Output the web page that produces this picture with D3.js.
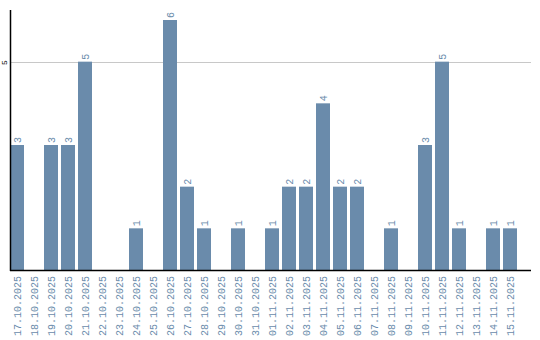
<!DOCTYPE html>
<html><head><meta charset="utf-8">
<script src="https://cdn.jsdelivr.net/npm/d3@7"></script>
<style>body{margin:0;background:#fff}svg{display:block}</style>
</head><body><svg id="c" width="540" height="340"></svg>
<script>
const categories = ["17.10.2025","18.10.2025","19.10.2025","20.10.2025","21.10.2025","22.10.2025","23.10.2025","24.10.2025","25.10.2025","26.10.2025","27.10.2025","28.10.2025","29.10.2025","30.10.2025","31.10.2025","01.11.2025","02.11.2025","03.11.2025","04.11.2025","05.11.2025","06.11.2025","07.11.2025","08.11.2025","09.11.2025","10.11.2025","11.11.2025","12.11.2025","13.11.2025","14.11.2025","15.11.2025"];
const values = [3,0,3,3,5,0,0,1,0,6,2,1,0,1,0,1,2,2,4,2,2,0,1,0,3,5,1,0,1,1];
const yTicks = [5];

const FONT = "Liberation Mono, DejaVu Sans Mono, monospace";
const svg = d3.select("#c");
const barColor = "#6a8bab";
const x = d3.scaleBand().domain(categories).range([10, 517]).paddingInner(3/17).paddingOuter(0);
const y = d3.scaleLinear().domain([0, 6.24]).range([270, 10]);

// gridlines
svg.append("g").selectAll("line").data(yTicks).join("line")
  .attr("x1", 10).attr("x2", 531)
  .attr("y1", d => Math.round(y(d)) + 0.5).attr("y2", d => Math.round(y(d)) + 0.5)
  .attr("stroke", "#c8c8c8").attr("stroke-width", 1);

// bars
const data = categories.map((c, i) => ({c, v: values[i]}));
svg.append("g").selectAll("rect").data(data.filter(d => d.v > 0)).join("rect")
  .attr("x", d => x(d.c)).attr("width", x.bandwidth())
  .attr("y", d => y(d.v)).attr("height", d => y(0) - y(d.v))
  .attr("fill", barColor);

// value labels
svg.append("g").selectAll("text").data(data.filter(d => d.v > 0)).join("text")
  .attr("transform", d => `translate(${x(d.c) + x.bandwidth()/2 + 3.5},${y(d.v) - 2}) rotate(-90)`)
  .attr("text-anchor", "start")
  .attr("font-family", FONT).attr("font-size", 10)
  .attr("fill", barColor).text(d => d.v);

// x axis
const xAxis = svg.append("g").attr("transform", "translate(0,270)").call(d3.axisBottom(x).tickSize(0).tickPadding(0));
xAxis.select(".domain").remove();
xAxis.selectAll("text")
  .attr("transform", "translate(3.5,6) rotate(-90)")
  .attr("dy", 0).attr("y", 0).attr("x", 0)
  .attr("text-anchor", "end")
  .attr("font-family", FONT).attr("font-size", 10)
  .attr("fill", barColor);
svg.append("line").attr("x1", 10).attr("x2", 531).attr("y1", 270.5).attr("y2", 270.5)
  .attr("stroke", "#000").attr("stroke-width", 1.5);

// y axis
const yAxis = svg.append("g").attr("transform", "translate(10,0)")
  .call(d3.axisLeft(y).tickValues(yTicks).tickFormat(d3.format("d")).tickSize(0).tickPadding(0));
yAxis.select(".domain").remove();
yAxis.selectAll(".tick").attr("transform", null);
yAxis.selectAll("text")
  .attr("x", 0).attr("y", 0).attr("dy", 0)
  .attr("transform", d => `translate(-3,${y(d) + 1}) rotate(-90)`)
  .attr("text-anchor", "middle")
  .attr("font-family", FONT).attr("font-size", 8)
  .attr("fill", "#000");
svg.append("line").attr("x1", 10.5).attr("x2", 10.5).attr("y1", 10).attr("y2", 271)
  .attr("stroke", "#000").attr("stroke-width", 1.5);
</script></body></html>
